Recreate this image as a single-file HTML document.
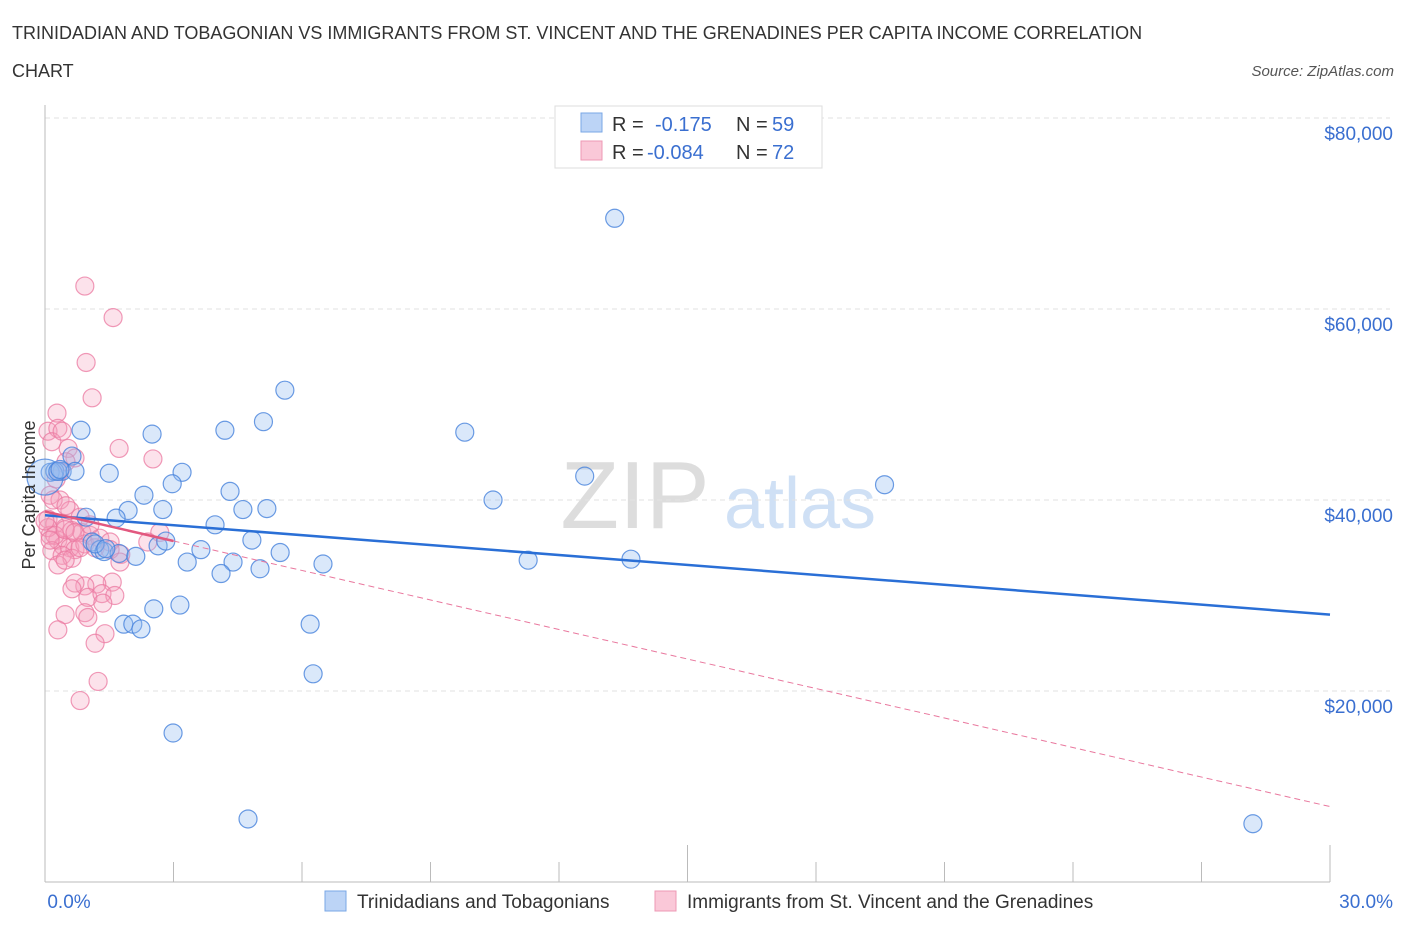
<!DOCTYPE html>
<html><head><meta charset="utf-8"><style>
body{margin:0;background:#fff;font-family:"Liberation Sans",sans-serif;}
svg text{font-family:"Liberation Sans",sans-serif;}
</style></head><body>
<svg id="chart" width="1406" height="930">
<text x="12" y="39" font-size="18" fill="#333">TRINIDADIAN AND TOBAGONIAN VS IMMIGRANTS FROM ST. VINCENT AND THE GRENADINES PER CAPITA INCOME CORRELATION</text>
<text x="12" y="77" font-size="18" fill="#333">CHART</text>
<text x="1394" y="76" font-size="15" fill="#555" font-style="italic" text-anchor="end">Source: ZipAtlas.com</text>
<text x="635" y="528" font-size="96" fill="#ddd" font-family="Liberation Serif" text-anchor="middle">ZIP</text>
<text x="800" y="528" font-size="72" fill="#cfe0f5" text-anchor="middle">atlas</text>
<g id="grid"></g>
<g id="axes"></g>
<g id="pts"></g>
<g id="lines"></g>
<text x="35" y="495" font-size="18" fill="#333" text-anchor="middle" transform="rotate(-90 35 495)">Per Capita Income</text>
<g>
<rect x="555" y="106" width="267" height="62" fill="#fff" stroke="#ddd"/>
<rect x="581" y="113" width="21" height="19" fill="#bcd4f6" stroke="#7aa7e6"/>
<rect x="581" y="141" width="21" height="19" fill="#fac8d8" stroke="#ee98b4"/>
<text x="612" y="131" font-size="20" fill="#333">R =</text>
<text x="655" y="131" font-size="20" fill="#3a6fd0">-0.175</text>
<text x="736" y="131" font-size="20" fill="#333">N =</text>
<text x="772" y="131" font-size="20" fill="#3a6fd0">59</text>
<text x="612" y="159" font-size="20" fill="#333">R =</text>
<text x="647" y="159" font-size="20" fill="#3a6fd0">-0.084</text>
<text x="736" y="159" font-size="20" fill="#333">N =</text>
<text x="772" y="159" font-size="20" fill="#3a6fd0">72</text>
</g>
<g>
<rect x="325" y="891" width="21" height="20" fill="#bcd4f6" stroke="#7aa7e6"/>
<text x="357" y="908" font-size="19" fill="#333">Trinidadians and Tobagonians</text>
<rect x="655" y="891" width="21" height="20" fill="#fac8d8" stroke="#ee98b4"/>
<text x="687" y="908" font-size="19" fill="#333">Immigrants from St. Vincent and the Grenadines</text>
</g>
</svg>
<script>
const yTicks=[20000,40000,60000,80000];
const yTickLabels=["$20,000","$40,000","$60,000","$80,000"];
const xTickLabels=["0.0%","30.0%"];
const blueX=[13.3,5.6,9.8,5.1,4.2,2.5,0.84,3.2,1.5,0.63,0.4,0.12,0.23,2.97,4.32,2.31,10.46,12.6,19.6,4.62,5.18,1.94,2.75,1.66,0.96,3.97,1.1,1.28,1.38,1.73,2.12,2.64,2.82,4.83,5.49,3.64,3.32,4.39,4.11,5.02,6.49,11.28,13.68,2.54,3.15,1.84,2.05,2.24,6.19,6.26,2.99,4.74,28.2,0.0,0.3,1.17,1.42,0.7,0.35];
const blueY=[69.5,51.5,47.1,48.2,47.3,46.9,47.3,42.9,42.8,44.6,43.0,42.9,43.0,41.7,40.9,40.5,40.0,42.5,41.6,39.0,39.1,38.9,39.0,38.1,38.2,37.4,35.6,34.8,34.6,34.4,34.1,35.2,35.7,35.8,34.5,34.8,33.5,33.5,32.3,32.8,33.3,33.7,33.8,28.6,29.0,27.0,27.0,26.5,27.0,21.8,15.6,6.6,6.1,42.4,43.0,35.4,34.9,43.0,43.2];
const pinkX=[0.93,1.59,0.96,1.1,0.28,0.07,0.3,0.16,0.4,0.54,0.7,0.49,1.73,2.52,0.12,0.35,0.58,0.82,0.07,0.23,0.47,0.63,0.86,1.05,0.12,0.3,0.42,0.58,0.7,0.93,1.17,1.28,1.52,2.68,2.4,1.77,0.07,0.23,0.47,0.7,1.05,0.16,0.4,0.63,0.82,0.3,0.47,1.52,1.57,1.75,1.21,0.93,0.7,1.0,1.33,1.63,1.35,0.93,0.63,1.0,0.47,0.3,1.4,1.17,1.24,0.82,0.35,0.26,0.19,0.49,0.0,0.12];
const pinkY=[62.4,59.1,54.4,50.7,49.1,47.2,47.5,46.1,47.2,45.4,44.4,44.0,45.4,44.3,40.5,40.0,38.9,38.2,38.0,37.5,37.1,36.8,36.6,36.3,36.3,35.8,35.2,35.0,34.8,35.4,35.0,36.0,35.6,36.6,35.6,34.3,37.1,36.3,36.9,36.6,37.4,34.7,34.2,33.9,35.0,33.2,33.7,34.8,31.4,33.5,31.2,31.0,31.3,29.8,30.2,30.0,29.2,28.2,30.7,27.7,28.0,26.4,26.0,25.0,21.0,19.0,43.0,42.2,40.0,39.4,37.8,35.8];
const blueTrend=[0,38.4,30,28.0];
const pinkTrend=[0,38.8,30,7.9];
const X0=45,X1=1330,Y0=882,PXK=191/20;
function sx(p){return X0+(p/30)*(X1-X0);}
function sy(v){return Y0-v*PXK;}
const NS="http://www.w3.org/2000/svg";
function mk(tag,attrs,parent){const e=document.createElementNS(NS,tag);for(const k in attrs)e.setAttribute(k,attrs[k]);parent.appendChild(e);return e;}
const grid=document.getElementById('grid'),axes=document.getElementById('axes'),pts=document.getElementById('pts'),lines=document.getElementById('lines');
yTicks.forEach((t,i)=>{
 const g=mk('line',{x1:X0,x2:X1+60,y1:sy(t/1000),y2:sy(t/1000),stroke:'#e2e2e2','stroke-dasharray':'5,4'},grid);
 
 
 const tx=mk('text',{x:1393,y:sy(t/1000)+22,'font-size':19,fill:'#3a6fd0','text-anchor':'end'},axes);
 tx.textContent=yTickLabels[i];
 
 
});
const ax=mk('line',{x1:X0,x2:X0,y1:105,y2:882,stroke:'#bbb'},axes);


const bx=mk('line',{x1:X0,x2:X1,y1:882,y2:882,stroke:'#bbb'},axes);


for(let i=0;i<=10;i++){
 const t=mk('line',{x1:sx(i*3),x2:sx(i*3),y1:i%5==0?845:862,y2:882,stroke:'#bbb'},axes);
 
 
}
[[0,X0+24,'middle'],[1,1393,'end']].forEach(([i,x,a])=>{
 const t=mk('text',{x:x,y:908,'font-size':19,fill:'#3a6fd0','text-anchor':a},axes);
 t.textContent=xTickLabels[i];
 
 
});
pinkX.forEach((x,i)=>{
 const c=mk('circle',{cx:sx(x),cy:sy(pinkY[i]),r:9,fill:'rgba(245,160,190,0.3)',stroke:'rgba(235,120,160,0.75)','stroke-width':1.2},pts);
 
 
});
blueX.forEach((x,i)=>{
 const c=mk('circle',{cx:sx(x),cy:sy(blueY[i]),r:i==53?18:9,fill:'rgba(150,190,240,0.35)',stroke:'rgba(70,130,220,0.8)','stroke-width':1.2},pts);
 
 
});
const bl=mk('line',{x1:sx(blueTrend[0]),y1:sy(blueTrend[1]),x2:sx(blueTrend[2]),y2:sy(blueTrend[3]),stroke:'#2a6fd6','stroke-width':2.5},lines);


const pm=(v)=>pinkTrend[1]+(pinkTrend[3]-pinkTrend[1])*v/30;
const pd=mk('line',{x1:sx(3),y1:sy(pm(3)),x2:sx(pinkTrend[2]),y2:sy(pinkTrend[3]),stroke:'#e9789e','stroke-width':1,'stroke-dasharray':'6,4'},lines);


const ps=mk('line',{x1:sx(pinkTrend[0]),y1:sy(pinkTrend[1]),x2:sx(3),y2:sy(pm(3)),stroke:'#e2587f','stroke-width':2.5},lines);


</script>
</body></html>
